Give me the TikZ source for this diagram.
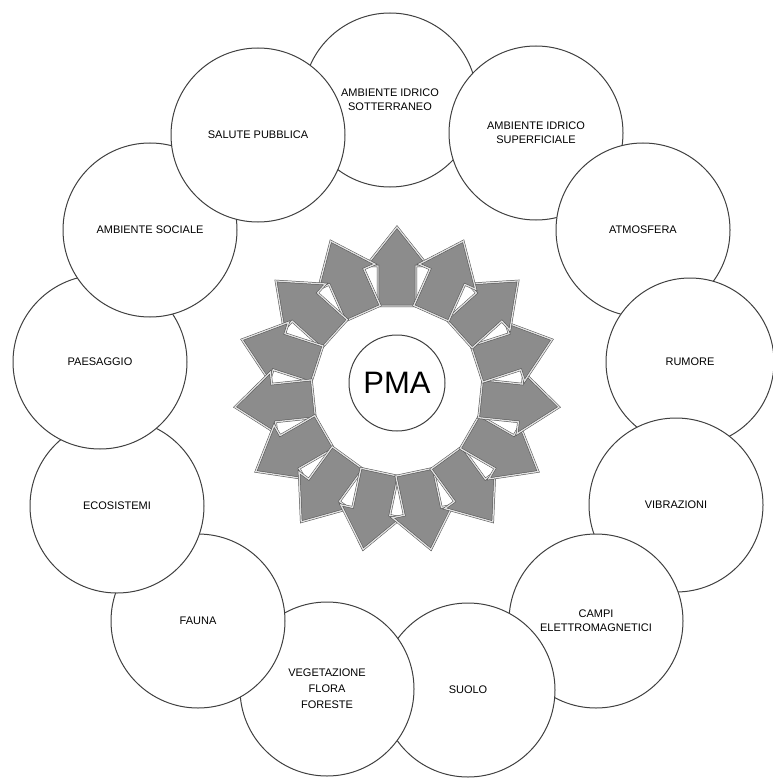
\documentclass[tikz,border=0pt]{standalone}
\usepackage{fontspec}
\setmainfont{Liberation Sans}
\begin{document}
\begin{tikzpicture}[x=1pt,y=-1pt,
  topic/.style={circle, draw=black!75, line width=1pt, fill=white, minimum size=174pt, inner sep=0pt, align=center, font=\fontsize{11}{14}\selectfont},
  arrowsty/.style={fill=black!45, draw=black!70, line width=0.5pt, double=white!88!black, double distance=1.3pt, line join=miter},
  hubsty/.style={circle, draw=black!75, line width=1pt, fill=white, minimum size=96pt, inner sep=0pt, font=\fontsize{31}{34}\selectfont}]
\useasboundingbox (0,0) rectangle (772,778);
\fill[white] (0,0) rectangle (772,778);
% outer ring of topics, drawn in stacking order
\node[topic] (sott)   at (390,100) {AMBIENTE IDRICO\\SOTTERRANEO};
\node[topic] (superf) at (536,133) {AMBIENTE IDRICO\\SUPERFICIALE};
\node[topic] (atm)    at (643,230) {ATMOSFERA};
\node[topic, minimum size=168pt] (rum) at (690,362) {RUMORE};
\node[topic] (vib)    at (676,505) {VIBRAZIONI};
\node[topic] (campi)  at (596,621) {CAMPI\\ELETTROMAGNETICI};
\node[topic] (suolo)  at (468,690) {SUOLO};
\node[topic, font=\fontsize{11}{16}\selectfont] (veg) at (327,689) {VEGETAZIONE\\FLORA\\FORESTE};
\node[topic] (fauna)  at (198,621) {FAUNA};
\node[topic] (eco)    at (117,506) {ECOSISTEMI};
\node[topic] (paes)   at (100,362) {PAESAGGIO};
\node[topic] (soc)    at (150,230) {AMBIENTE SOCIALE};
\node[topic] (sal)    at (258,135) {SALUTE PUBBLICA};
% central star of arrows
\coordinate (c) at (397,390);
\foreach \k in {0,...,14}{
  \pgfmathsetmacro\ang{90+24*\k}
  \draw[arrowsty, shift={(c)}, rotate=\ang]
    (84,-19) -- (124,-19) -- (124,-31) -- (163,0) -- (124,31) -- (124,19) -- (84,19) -- cycle;
}
\node[hubsty] (pma) at (397,383) {PMA};
\end{tikzpicture}
\end{document}
